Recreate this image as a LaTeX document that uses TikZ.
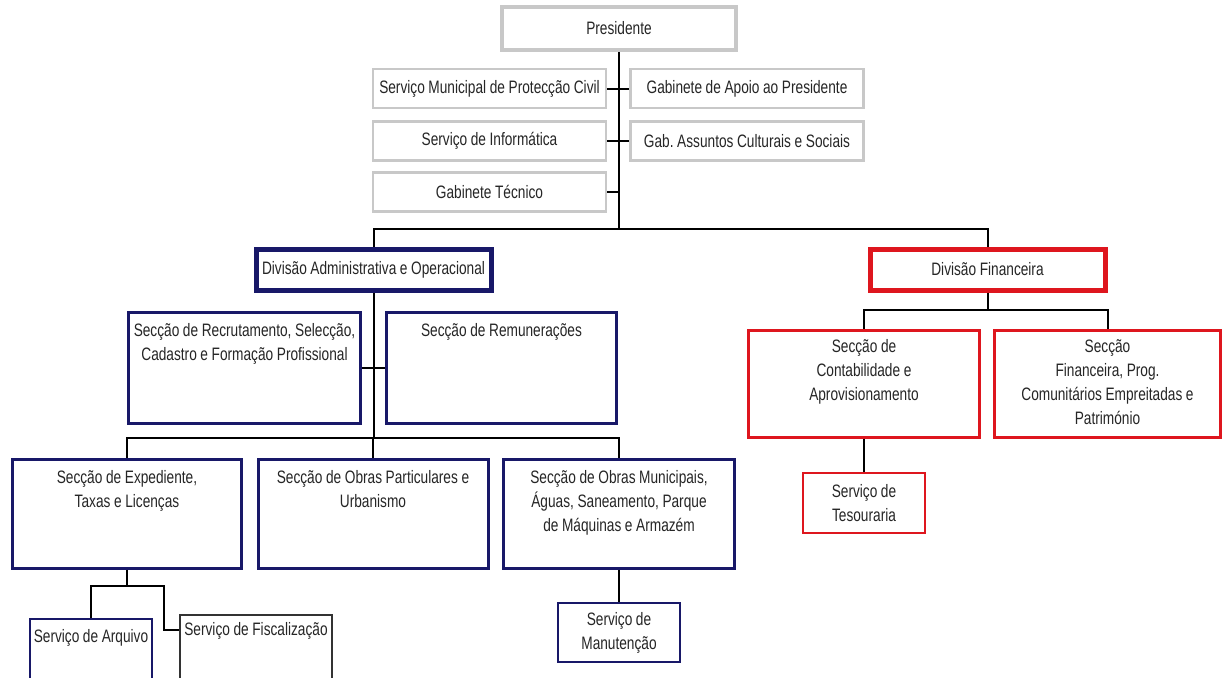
\documentclass[tikz,border=0pt]{standalone}
\usepackage{fontspec}
\setmainfont{Liberation Sans}[FakeStretch=0.76, WordSpace=0.95]
\usetikzlibrary{positioning}
\definecolor{staffgray}{RGB}{200,200,200}
\definecolor{admnavy}{RGB}{24,24,104}
\definecolor{finred}{RGB}{222,22,30}
\newcommand{\chartfont}{\frenchspacing\fontsize{18}{24}\selectfont}

\begin{document}
\begin{tikzpicture}[
    x=1pt, y=1pt,
    unit/.style={draw, align=flush center, inner sep=0pt, font=\chartfont, text=black!85},
    staff/.style={unit, draw=staffgray, line width=2.5pt, text width=233pt, minimum height=39pt},
    division/.style={unit, line width=5pt, text width=235pt, minimum height=41pt},
    section/.style={unit, anchor=north, line width=3pt, text height=24pt, text depth=86pt},
    service/.style={unit, line width=2pt, text width=122pt},
    link/.style={draw=black, line width=2pt}
]
\path[use as bounding box, fill=white] (0,0) rectangle (1225,-677);
\clip (0,0) rectangle (1225,-677);

\node[unit, draw=staffgray, line width=4pt, text width=234pt, minimum height=43pt] (pres) at (619,-28.5) {Presidente};
\node[staff] (civil) at (489.5,-88.5) {Serviço Municipal de Protecção Civil};
\node[staff] (apoio) at (747,-88.5) {Gabinete de Apoio ao Presidente};
\node[staff] (info) at (489.5,-141) {Serviço de Informática};
\node[staff] (cultura) at (747,-141) {Gab. Assuntos Culturais e Sociais};
\node[staff] (tecnico) at (489.5,-192) {Gabinete Técnico};

\node[division, draw=admnavy] (divadm) at (373.5,-269.5) {Divisão Administrativa e Operacional};
\node[division, draw=finred] (divfin) at (987.5,-269.5) {Divisão Financeira};

\node[section, draw=admnavy, text width=232pt, text depth=87pt] (recrut) at (244.5,-310.5) {Secção de Recrutamento, Selecção,\\Cadastro e Formação Profissional};
\node[section, draw=admnavy, text width=230pt, text depth=87pt] (remun) at (501.5,-310.5) {Secção de Remunerações};

\node[section, draw=admnavy, text width=229pt, text depth=85pt] (exped) at (127,-457.5) {Secção de Expediente,\\Taxas e Licenças};
\node[section, draw=admnavy, text width=230pt, text depth=85pt] (obrpart) at (373,-457.5) {Secção de Obras Particulares e\\Urbanismo};
\node[section, draw=admnavy, text width=231pt, text depth=85pt] (obrmun) at (619,-457.5) {Secção de Obras Municipais,\\Águas, Saneamento, Parque\\de Máquinas e Armazém};

\node[section, draw=finred, text width=231pt, text depth=85pt, text height=22pt] (contab) at (864,-328.5) {Secção de\\Contabilidade e\\Aprovisionamento};
\node[section, draw=finred, text width=226pt, text depth=85pt, text height=22pt] (financ) at (1107.5,-328.5) {Secção\\Financeira, Prog.\\Comunitários Empreitadas e\\Património};

\node[service, draw=finred, minimum height=60pt] (tesour) at (864,-503) {Serviço de\\Tesouraria};
\node[service, draw=admnavy, minimum height=59pt] (manut) at (619,-632.5) {Serviço de\\Manutenção};
\node[service, draw=admnavy, anchor=north, text height=23pt, text depth=80pt] (arquivo) at (91,-618) {Serviço de Arquivo};
\node[service, draw=black!80, anchor=north, text width=152pt, text height=20pt, text depth=80pt] (fiscal) at (256,-614) {Serviço de Fiscalização};

\coordinate (topbus) at (619,-229);
\coordinate (admbus) at (373.5,-438);
\coordinate (expbus) at (127,-586);
\coordinate (fiscbend) at (164,-630);

\draw[link] (pres.south) -- (topbus);
\draw[link] (civil) -- (apoio);
\draw[link] (info) -- (cultura);
\draw[link] (tecnico.east) -- (tecnico.east -| topbus);
\draw[link] (divadm.north) |- (topbus) -| (divfin.north);
\draw[link] (divadm.south) -- (admbus);
\draw[link] (recrut) -- (remun);
\draw[link] (exped.north) |- (admbus) -| (obrmun.north);
\draw[link] (obrpart.north) -- (obrpart.north |- admbus);
\draw[link] (divfin.south) -- ++(0,-17.5) coordinate (finbus);
\draw[link] (contab.north) |- (finbus) -| (financ.north);
\draw[link] (contab) -- (tesour);
\draw[link] (obrmun) -- (manut);
\draw[link] (exped.south) -- (expbus);
\draw[link] (arquivo.north) |- (expbus) -| (fiscbend) -- (fiscbend -| fiscal.west);
\end{tikzpicture}
\end{document}
